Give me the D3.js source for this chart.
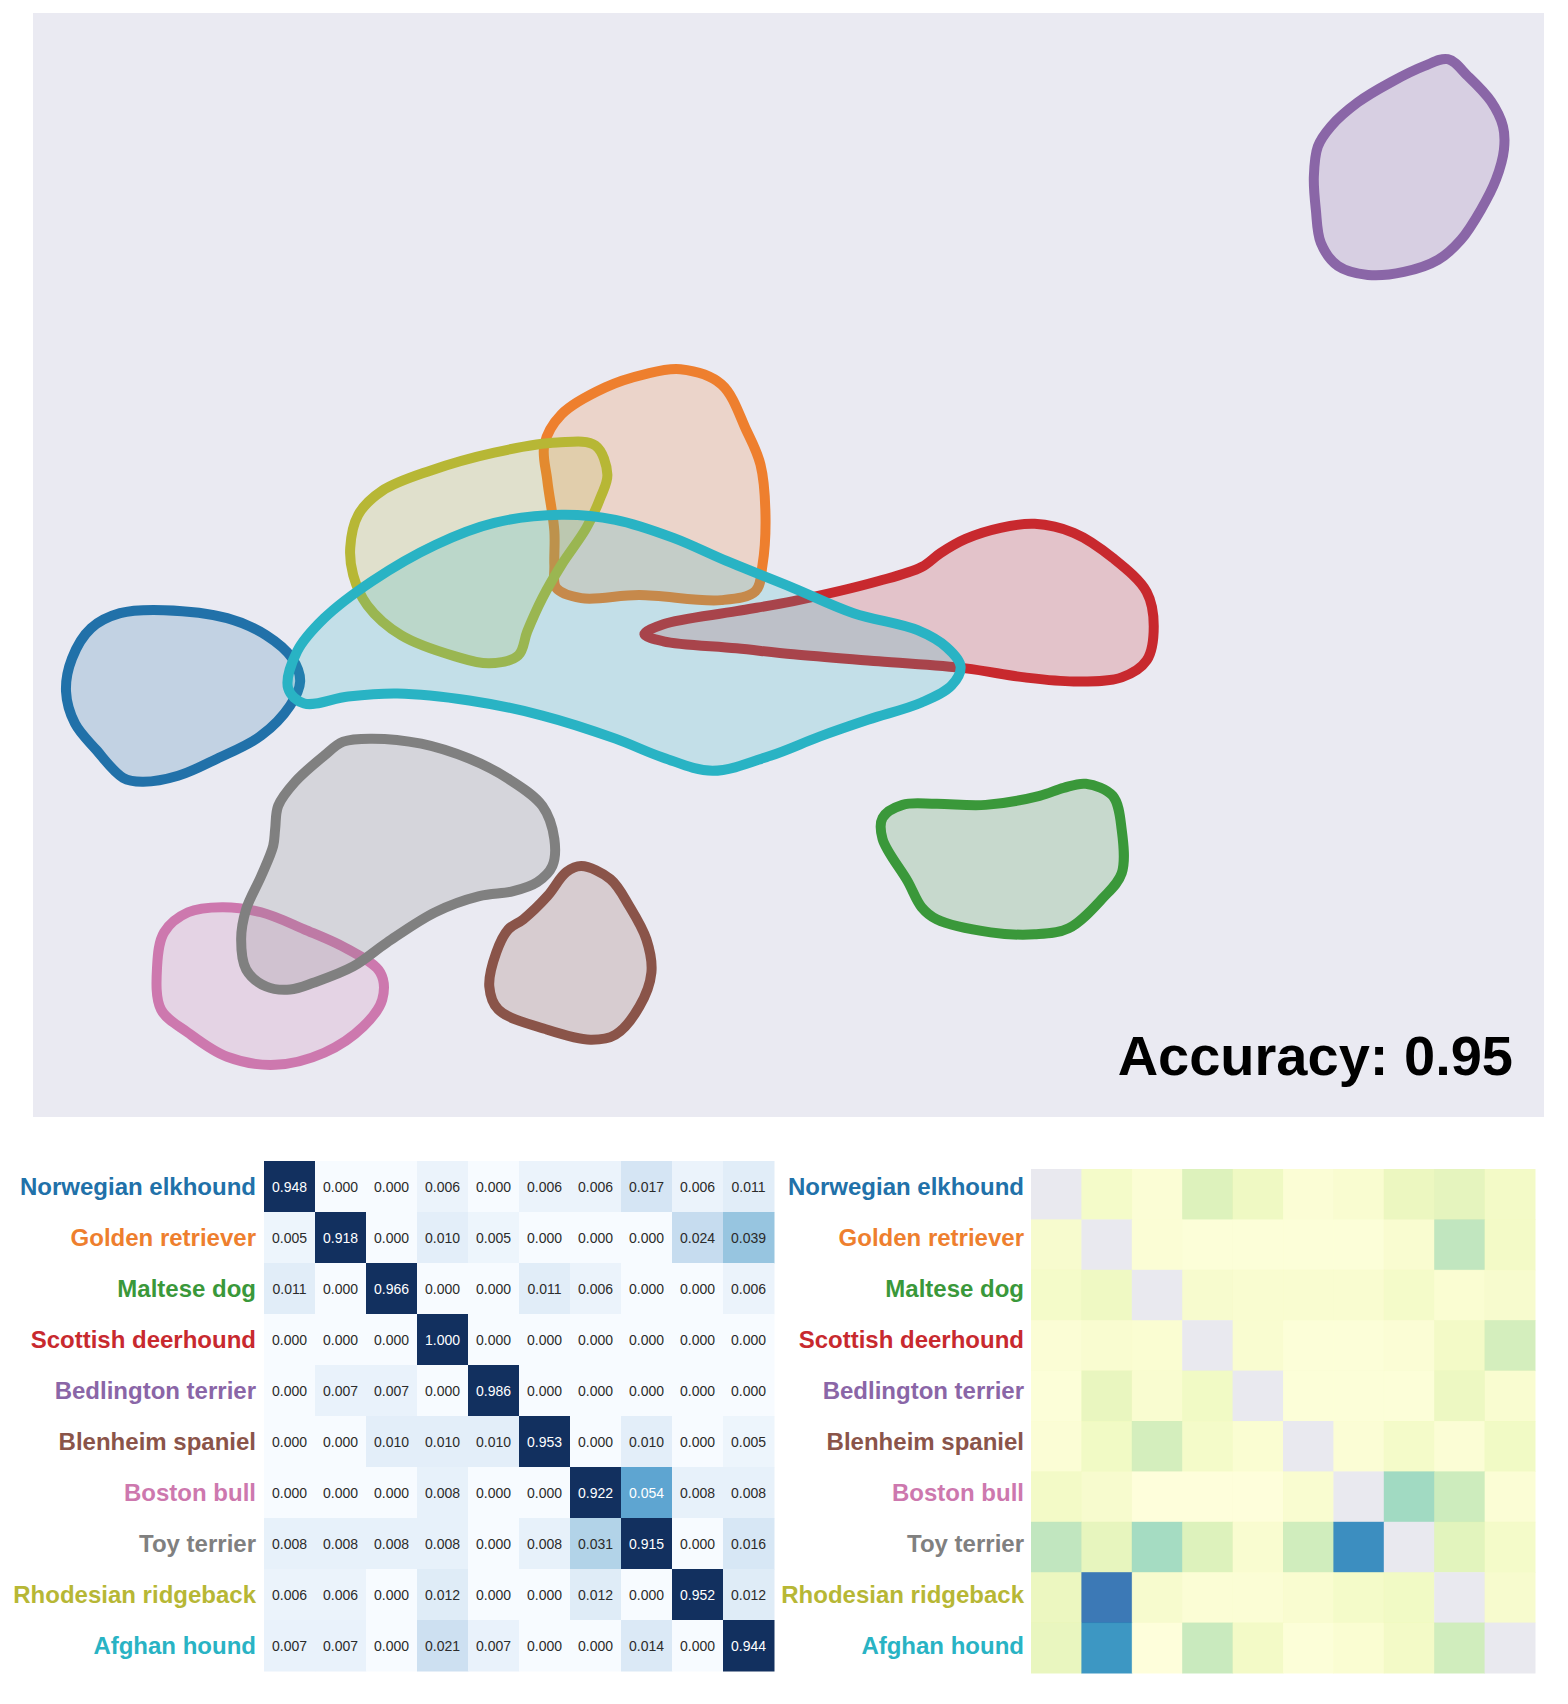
<!DOCTYPE html>
<html>
<head>
<meta charset="utf-8">
<script src="https://cdn.jsdelivr.net/npm/d3@7"></script>
<style>
  html, body { margin: 0; padding: 0; background: #ffffff; }
  svg { display: block; }
  text { font-family: "Liberation Sans", Arial, Helvetica, sans-serif; }
</style>
</head>
<body>
<svg id="chart" width="1568" height="1704"></svg>
<script>
// ---------------- DATA ----------------
const categories = [
  "Norwegian elkhound", "Golden retriever", "Maltese dog", "Scottish deerhound",
  "Bedlington terrier", "Blenheim spaniel", "Boston bull", "Toy terrier",
  "Rhodesian ridgeback", "Afghan hound"
];

const classColors = ["#2171a9", "#ee7f2e", "#3a983a", "#c8292e", "#8a66a7",
                     "#8a5449", "#cd78ae", "#808080", "#b7b735", "#29b3c4"];

const accuracy = 0.95;

// confusion matrix (rows = true class, cols = predicted class)
const confusion = [
  [0.948, 0.000, 0.000, 0.006, 0.000, 0.006, 0.006, 0.017, 0.006, 0.011],
  [0.005, 0.918, 0.000, 0.010, 0.005, 0.000, 0.000, 0.000, 0.024, 0.039],
  [0.011, 0.000, 0.966, 0.000, 0.000, 0.011, 0.006, 0.000, 0.000, 0.006],
  [0.000, 0.000, 0.000, 1.000, 0.000, 0.000, 0.000, 0.000, 0.000, 0.000],
  [0.000, 0.007, 0.007, 0.000, 0.986, 0.000, 0.000, 0.000, 0.000, 0.000],
  [0.000, 0.000, 0.010, 0.010, 0.010, 0.953, 0.000, 0.010, 0.000, 0.005],
  [0.000, 0.000, 0.000, 0.008, 0.000, 0.000, 0.922, 0.054, 0.008, 0.008],
  [0.008, 0.008, 0.008, 0.008, 0.000, 0.008, 0.031, 0.915, 0.000, 0.016],
  [0.006, 0.006, 0.000, 0.012, 0.000, 0.000, 0.012, 0.000, 0.952, 0.012],
  [0.007, 0.007, 0.000, 0.021, 0.007, 0.000, 0.000, 0.014, 0.000, 0.944]
];

// second heatmap (values estimated from colour, diagonal undefined)
const pairScores = [
  [null, 0.08, 0.03, 0.19, 0.11, 0.03, 0.05, 0.13, 0.16, 0.09],
  [0.06, null, 0.03, 0.02, 0.02, 0.02, 0.02, 0.05, 0.27, 0.09],
  [0.08, 0.11, null, 0.06, 0.05, 0.05, 0.05, 0.08, 0.04, 0.06],
  [0.03, 0.05, 0.04, null, 0.05, 0.02, 0.02, 0.03, 0.09, 0.22],
  [0.02, 0.14, 0.05, 0.10, null, 0.02, 0.02, 0.02, 0.12, 0.05],
  [0.03, 0.10, 0.22, 0.08, 0.04, null, 0.03, 0.08, 0.03, 0.10],
  [0.09, 0.06, 0.01, 0.01, 0.01, 0.05, null, 0.34, 0.24, 0.03],
  [0.27, 0.15, 0.33, 0.19, 0.05, 0.23, 0.67, null, 0.17, 0.08],
  [0.13, 0.73, 0.06, 0.03, 0.03, 0.05, 0.08, 0.10, null, 0.06],
  [0.14, 0.64, 0.01, 0.25, 0.09, 0.02, 0.04, 0.09, 0.23, null]
];

// cluster outlines in embedding units (x right, y up)
const elkhoundOutline = [[13.1,50.5],[19.4,49.7],[23.3,48.0],[25.9,45.7],[26.7,43.4],[25.7,41.0],[22.8,38.0],[18.4,35.7],[14.5,34.0],[10.9,33.4],[9.0,33.8],[6.3,36.6],[4.2,39.2],[3.3,42.4],[3.9,45.7],[5.8,48.7],[8.7,50.2]];
const retrieverOutline = [[64.7,74.5],[68.8,73.0],[71.3,68.4],[72.7,65.0],[73.2,60.0],[72.9,55.0],[72.2,52.4],[68.8,51.5],[60.6,52.0],[54.8,51.7],[52.3,52.7],[52.1,55.0],[52.1,58.4],[51.4,63.4],[51.1,67.0],[52.8,70.0],[57.2,72.7],[61.1,74.0]];
const malteseOutline = [[105.2,33.2],[107.9,32.0],[108.8,28.6],[108.8,24.3],[106.9,21.8],[103.5,18.8],[100.1,18.2],[95.7,18.4],[90.3,19.7],[88.8,20.9],[87.4,23.5],[84.9,27.7],[84.9,29.8],[86.9,31.1],[90.3,31.2],[95.2,31.1],[100.6,32.0],[103.0,32.8]];
const deerhoundOutline = [[100.1,59.1],[104.0,58.2],[107.9,55.7],[111.3,52.3],[112.0,48.9],[111.3,45.5],[108.8,43.8],[104.0,43.4],[99.1,43.8],[93.2,44.7],[84.5,45.4],[76.0,46.1],[70.3,46.7],[63.0,47.4],[61.1,48.1],[63.0,49.1],[70.3,50.4],[76.0,51.4],[84.5,53.4],[88.8,54.8],[90.7,56.2],[93.2,57.6],[96.7,58.7]];
const bedlingtonOutline = [[141.4,105.4],[143.4,103.7],[145.7,101.2],[146.9,98.7],[147.0,96.4],[146.2,93.4],[144.7,90.4],[142.7,87.4],[140.4,85.4],[137.0,84.2],[133.4,83.9],[130.4,84.8],[128.7,87.1],[128.2,90.4],[128.0,93.7],[128.4,96.7],[129.7,98.7],[132.4,101.1],[135.7,103.1],[139.0,104.7]];
const blenheimOutline = [[54.8,25.0],[57.7,23.7],[59.6,21.0],[61.3,17.7],[61.8,14.4],[60.6,11.0],[58.2,8.2],[55.7,7.7],[51.4,8.7],[46.5,10.7],[45.6,13.0],[46.3,16.4],[47.5,18.7],[49.0,19.7],[51.4,22.0],[53.3,24.4]];
const bostonOutline = [[18.9,20.9],[22.8,20.4],[27.1,18.7],[31.5,16.7],[34.7,14.4],[34.9,11.7],[33.0,9.0],[29.1,6.4],[24.2,5.2],[19.4,6.0],[15.5,8.4],[12.8,10.7],[12.4,15.0],[13.1,18.4],[15.5,20.4]];
const toyTerrierOutline = [[33.9,37.7],[38.8,37.2],[43.6,35.7],[47.5,33.7],[50.9,31.0],[52.1,27.7],[51.9,25.0],[50.4,23.4],[48.0,22.5],[44.6,22.0],[40.2,20.4],[35.4,17.4],[32.0,15.0],[28.1,13.4],[25.7,12.7],[23.3,13.0],[21.3,14.7],[20.8,17.7],[21.3,20.7],[22.8,24.0],[24.0,27.0],[24.2,28.7],[24.5,31.0],[26.2,33.4],[29.1,36.0],[31.0,37.4]];
const ridgebackOutline = [[56.2,66.9],[57.4,64.0],[56.7,61.7],[55.3,58.7],[52.8,55.0],[50.9,51.7],[49.4,48.4],[48.5,46.0],[45.6,45.2],[42.2,45.9],[36.8,48.0],[33.4,51.0],[32.0,54.0],[31.7,56.7],[32.5,60.0],[34.9,62.4],[39.7,64.4],[46.1,66.2],[52.4,67.2]];
const afghanOutline = [[52.8,60.0],[58.2,59.5],[64.0,57.7],[69.3,55.4],[76.0,52.7],[82.0,50.2],[88.4,48.5],[91.3,46.8],[92.7,44.9],[91.8,43.0],[88.8,41.3],[83.5,39.6],[78.6,37.9],[73.7,36.0],[67.9,34.5],[63.0,35.8],[58.2,37.7],[50.9,40.0],[43.6,41.5],[36.4,42.2],[31.5,41.9],[27.1,41.2],[25.5,42.7],[26.4,46.4],[29.1,49.7],[33.9,53.4],[40.2,57.0],[46.1,59.2]];

const outlines = [elkhoundOutline, retrieverOutline, malteseOutline, deerhoundOutline,
  bedlingtonOutline, blenheimOutline, bostonOutline, toyTerrierOutline,
  ridgebackOutline, afghanOutline];

// ---------------- DRAWING ----------------
const svg = d3.select("#chart");

// --- embedding panel ---
const panel = {x0: 33, x1: 1544, y0: 13, y1: 1117};
svg.append("rect")
  .attr("x", panel.x0).attr("y", panel.y0)
  .attr("width", panel.x1 - panel.x0).attr("height", panel.y1 - panel.y0)
  .attr("fill", "#eaeaf2");

const ex = d3.scaleLinear().domain([0, 151]).range([panel.x0, panel.x1]);
const ey = d3.scaleLinear().domain([0, 110]).range([panel.y1, panel.y0]);

const blobLine = d3.line()
  .x(d => ex(d[0])).y(d => ey(d[1]))
  .curve(d3.curveCatmullRomClosed.alpha(0.5));

const blobs = svg.append("g");
outlines.forEach((pts, i) => {
  blobs.append("path")
    .attr("d", blobLine(pts))
    .attr("fill", classColors[i])
    .attr("fill-opacity", 0.2)
    .attr("stroke", classColors[i])
    .attr("stroke-width", 10)
    .attr("stroke-linejoin", "round");
});

svg.append("text")
  .attr("x", 1513).attr("y", 1075)
  .attr("text-anchor", "end")
  .attr("font-size", 56)
  .attr("font-weight", "bold")
  .attr("fill", "#000")
  .text("Accuracy: " + accuracy.toFixed(2));

// --- confusion matrix ---
const idx = d3.range(categories.length);
const cx = d3.scaleBand().domain(idx).range([264, 774]);
const cy = d3.scaleBand().domain(idx).range([1161, 1671]);
const blues = d3.scaleSequential(d3.interpolateBlues).domain([0, 0.1]).clamp(true);

const cm = svg.append("g");
confusion.forEach((row, r) => {
  row.forEach((v, c) => {
    cm.append("rect")
      .attr("x", cx(c)).attr("y", cy(r))
      .attr("width", cx.bandwidth() + 0.5).attr("height", cy.bandwidth() + 0.5)
      .attr("fill", v >= 0.1 ? "#12305f" : blues(v));
    cm.append("text")
      .attr("x", cx(c) + cx.bandwidth() / 2)
      .attr("y", cy(r) + cy.bandwidth() / 2)
      .attr("text-anchor", "middle")
      .attr("dominant-baseline", "central")
      .attr("font-size", 14)
      .attr("fill", v / 0.1 > 0.5 ? "#ffffff" : "#2b2b2b")
      .text(v.toFixed(3));
  });
});

cm.selectAll("text.lab")
  .data(categories)
  .join("text")
  .attr("class", "lab")
  .attr("x", 256)
  .attr("y", (d, i) => cy(i) + cy.bandwidth() / 2)
  .attr("text-anchor", "end")
  .attr("dominant-baseline", "central")
  .attr("font-size", 24)
  .attr("font-weight", "bold")
  .attr("fill", (d, i) => classColors[i])
  .text(d => d);

// --- second heatmap ---
const hx = d3.scaleBand().domain(idx).range([1031, 1535]);
const hy = d3.scaleBand().domain(idx).range([1169, 1673]);
const ylgnbu = d3.scaleSequential(d3.interpolateYlGnBu).domain([0, 1]);

const hm = svg.append("g");
pairScores.forEach((row, r) => {
  row.forEach((v, c) => {
    hm.append("rect")
      .attr("x", hx(c)).attr("y", hy(r))
      .attr("width", hx.bandwidth() + 0.5).attr("height", hy.bandwidth() + 0.5)
      .attr("fill", v === null ? "#e9e9ef" : ylgnbu(v))
      .attr("fill-opacity", v === null ? 1 : 0.88);
  });
});

hm.selectAll("text.lab")
  .data(categories)
  .join("text")
  .attr("class", "lab")
  .attr("x", 1024)
  .attr("y", (d, i) => cy(i) + cy.bandwidth() / 2)
  .attr("text-anchor", "end")
  .attr("dominant-baseline", "central")
  .attr("font-size", 24)
  .attr("font-weight", "bold")
  .attr("fill", (d, i) => classColors[i])
  .text(d => d);
</script>
</body>
</html>
